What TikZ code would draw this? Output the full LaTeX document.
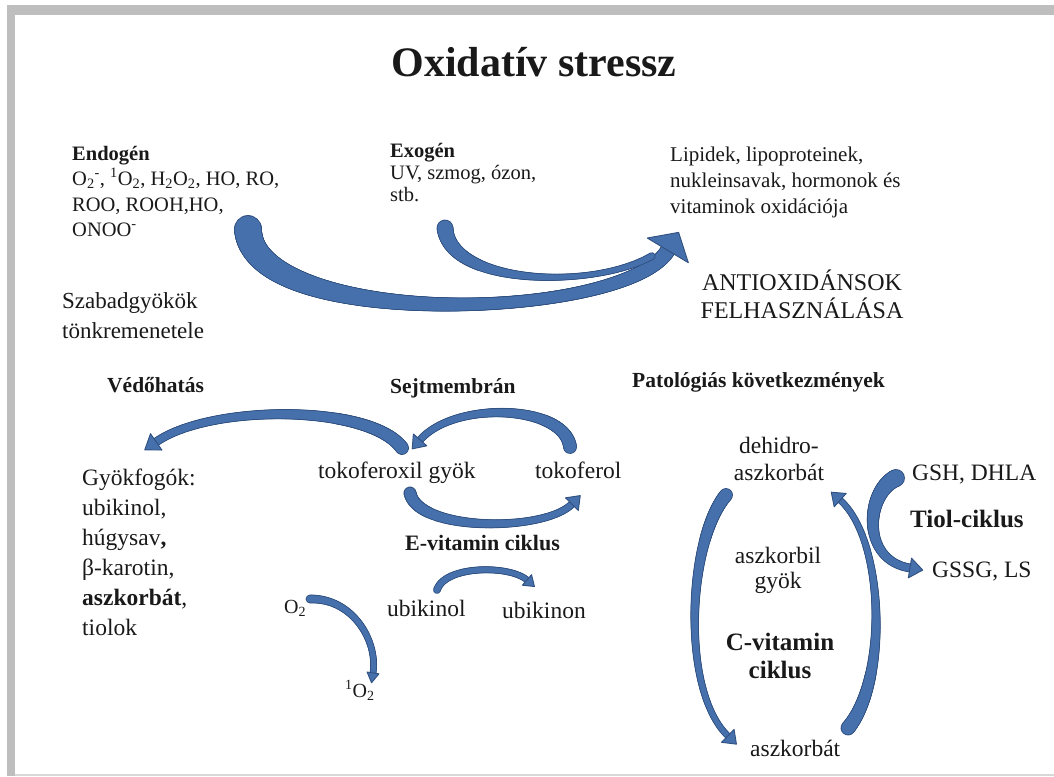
\documentclass[tikz,border=0pt]{standalone}
\usepackage{fontspec}
\setmainfont{Liberation Serif}
\usetikzlibrary{decorations.markings}
\definecolor{frame}{RGB}{190,190,190}
\definecolor{bandfill}{RGB}{70,112,172}
\definecolor{bandedge}{RGB}{48,80,128}
\definecolor{ink}{RGB}{25,25,25}
% text lines stacked, first baseline = node base
\newcommand\txtrows[2][l]{\begin{tabular}[t]{@{}#1@{}}#2\end{tabular}}
% one slice of a tapered band
\newcommand\bandmark[5]{%
  \pgfmathsetmacro\bandt{\pgfkeysvalueof{/pgf/decoration/mark info/distance from start}/\pgfdecoratedpathlength}%
  \pgfmathsetmacro\bandr{#1*(1-\bandt)^2+2*#2*\bandt*(1-\bandt)+#3*\bandt^2}%
  \fill[#5] (0,0) circle ({\bandr pt+#4});}
\tikzset{
  txt/.style={inner sep=0pt,anchor=base west,text=ink,font=\fontsize{23.5}{30}\selectfont},
  hd/.style={txt,font=\fontsize{21.5}{25}\selectfont\bfseries},
  band/.style n args={3}{
    postaction={decoration={markings,mark=between positions 0 and 1 step 0.8pt with {\bandmark{#1}{#2}{#3}{0.9pt}{bandedge}}},decorate},
    postaction={decoration={markings,mark=between positions 0 and 1 step 0.8pt with {\bandmark{#1}{#2}{#3}{0pt}{bandfill}}},decorate}},
  tip/.style 2 args={
    postaction={decoration={markings,mark=at position 0.999 with {\filldraw[fill=bandfill,draw=bandedge,line width=0.9pt,line join=round] (#1pt,0pt) -- (0pt,#2pt) -- (0pt,-#2pt) -- cycle;}},decorate}},
}
\begin{document}
\begin{tikzpicture}[x=1pt,y=-1pt]
  \useasboundingbox (0,0) rectangle (1054,776);
  % slide frame
  \fill[frame] (7,5) rectangle (15,776);
  \fill[frame] (7,5) rectangle (1054,15);
  \fill[frame!60] (15,774) rectangle (1054,776);

  \node[txt,anchor=base,font=\fontsize{42}{48}\selectfont\bfseries] (title) at (534,76) {Oxidatív stressz};

  % sources
  \node[txt,font=\fontsize{20.5}{25.5}\selectfont] (endo) at (72,160) {\txtrows{\textbf{Endogén}\\
    O\textsubscript{2}\textsuperscript{-}, \textsuperscript{1}O\textsubscript{2}, H\textsubscript{2}O\textsubscript{2}, HO, RO,\\
    ROO, ROOH,HO,\\ ONOO\textsuperscript{-}}};
  \node[txt,font=\fontsize{20.5}{22}\selectfont] (exo) at (390,157) {\txtrows{\textbf{Exogén}\\ UV, szmog, ózon,\\ stb.}};
  \node[txt,font=\fontsize{21}{26}\selectfont] (lip) at (670,161) {\txtrows{Lipidek, lipoproteinek,\\ nukleinsavak, hormonok és\\ vitaminok oxidációja}};
  \node[txt,anchor=base,font=\fontsize{24}{27}\selectfont] (antiox) at (802,290) {\txtrows[c]{ANTIOXIDÁNSOK\\ FELHASZNÁLÁSA}};
  \node[txt,font=\fontsize{23}{30}\selectfont] (szabad) at (62,308) {\txtrows{Szabadgyökök\\ tönkremenetele}};

  % headings
  \node[hd] (vedo) at (107,392) {Védőhatás};
  \node[hd] (sejt) at (390,393) {Sejtmembrán};
  \node[hd] (pato) at (632,387) {Patológiás következmények};

  % membrane part
  \node[txt] (gyok) at (82,485) {\txtrows{Gyökfogók:\\ ubikinol,\\ húgysav\textbf{,}\\ β-karotin,\\ \textbf{aszkorbát},\\ tiolok}};
  \node[txt] (tfx) at (318,478) {tokoferoxil gyök};
  \node[txt] (tfl) at (535,478) {tokoferol};
  \node[hd,font=\fontsize{22}{25}\selectfont\bfseries] (evit) at (405,550) {E-vitamin ciklus};
  \node[txt] (ubq) at (387,616) {ubikinol};
  \node[txt] (ubn) at (502,618) {ubikinon};
  \node[txt,font=\fontsize{20}{24}\selectfont] (oxy) at (284,613) {O\textsubscript{2}};
  \node[txt,font=\fontsize{20}{24}\selectfont] (sox) at (345,697) {\textsuperscript{1}O\textsubscript{2}};

  % C-vitamin and thiol cycles
  \node[txt,anchor=base,font=\fontsize{23.5}{27}\selectfont] (dha) at (779,453) {\txtrows[c]{dehidro-\\ aszkorbát}};
  \node[txt,anchor=base,font=\fontsize{23.5}{25}\selectfont] (asg) at (778,563) {\txtrows[c]{aszkorbil\\ gyök}};
  \node[txt,anchor=base,font=\fontsize{25}{28}\selectfont\bfseries] (cvit) at (780,650) {\txtrows[c]{C-vitamin\\ ciklus}};
  \node[txt] (asc) at (750,756) {aszkorbát};
  \node[txt] (gsh) at (912,480) {GSH, DHLA};
  \node[txt,font=\fontsize{25}{28}\selectfont\bfseries] (tiol) at (910,527) {Tiol-ciklus};
  \node[txt] (gssg) at (932,577) {GSSG, LS};

  % block arrows
  \path[band={13}{2}{7},tip={21}{24}] ([shift={(176,69)}]endo.base west) .. controls +(4,101) and +(-42,72) .. ([shift={(-2,89)}]lip.base west);
  \path[band={7.5}{0.5}{3}] ([shift={(55,71)}]exo.base west) .. controls +(5,57) and +(-60,34) .. ([shift={(-18,95)}]lip.base west);
  \path[band={6}{3.5}{3.5},tip={14}{10}] ([shift={(84,-30)}]tfx.base west) .. controls +(-32,-44) and +(54,-38) .. ([shift={(74,-43)}]gyok.base west);
  \path[band={6}{3}{3},tip={12}{9}] ([shift={(35,-31)}]tfl.base west) .. controls +(-5,-42) and +(35,-40) .. ([shift={(102,-38)}]tfx.base west);
  \path[band={5.5}{3}{3},tip={12}{9}] ([shift={(92,15)}]tfx.base west) .. controls +(8,39) and +(-27,28) .. ([shift={(37,26)}]tfl.base west);
  \path[band={3}{2.5}{2.5},tip={10}{7}] ([shift={(50,-26)}]ubq.base west) .. controls +(8,-25) and +(-17,-15) .. ([shift={(25,-38)}]ubn.base west);
  \path[band={3.5}{2.5}{2.5},tip={10}{6}] ([shift={(26,-14)}]oxy.base west) .. controls +(42,-1) and +(5,-33) .. ([shift={(28,-24)}]sox.base west);
  \path[band={6}{2.5}{2.5},tip={12}{9}] ([shift={(-53,42)}]dha.base) .. controls +(-38,45) and +(-48,-46) .. ([shift={(-22,-20)}]asc.base west);
  \path[band={6.5}{2.5}{2.5},tip={12}{9}] ([shift={(98,-28)}]asc.base west) .. controls +(40,-48) and +(45,40) .. ([shift={(61,47)}]dha.base);
  \path[band={8}{4}{3.5},tip={13}{10}] ([shift={(-16,-2)}]gsh.base west) .. controls +(-30,14) and +(-50,-8) .. ([shift={(-22,-9)}]gssg.base west);
\end{tikzpicture}
\end{document}
